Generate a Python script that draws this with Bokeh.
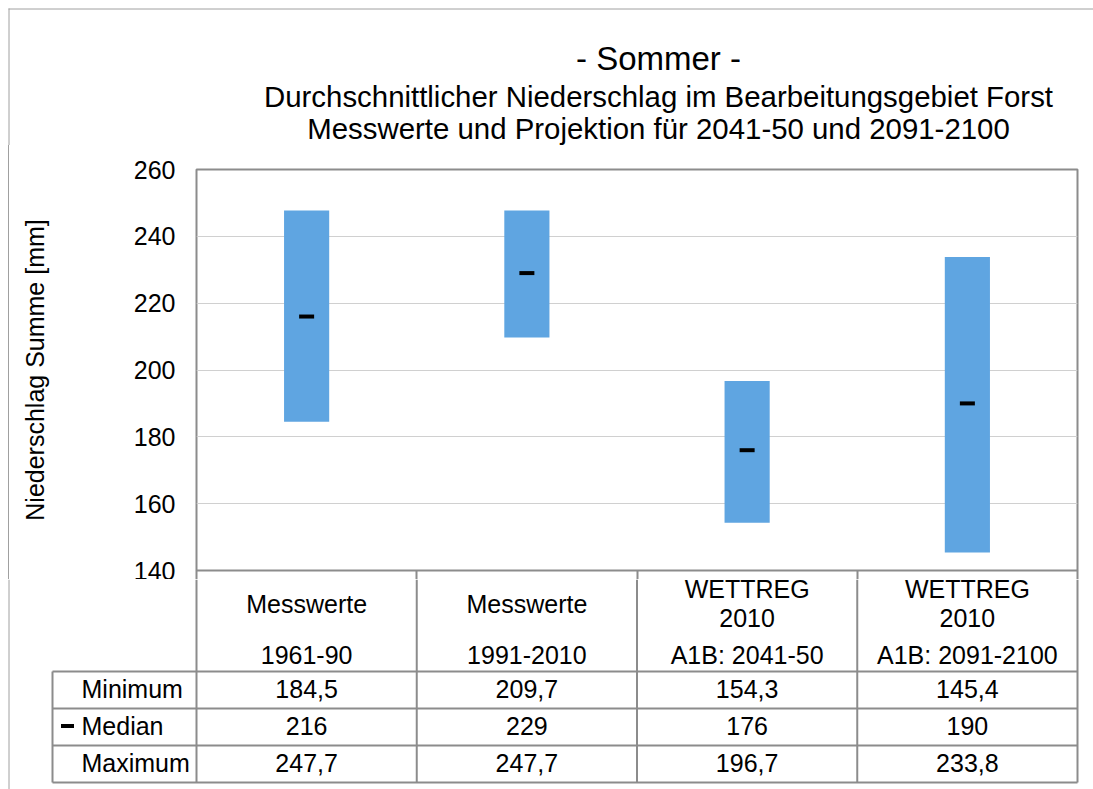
from bokeh.plotting import figure
from bokeh.models import Range1d, FixedTicker, ColumnDataSource
from bokeh.core.properties import value
from bokeh.embed import file_html
from bokeh.resources import INLINE

# ---------------- data ----------------
categories = ["Messwerte 1961-90", "Messwerte 1991-2010",
              "WETTREG 2010 A1B: 2041-50", "WETTREG 2010 A1B: 2091-2100"]
header_top = ["Messwerte", "Messwerte", "WETTREG\n2010", "WETTREG\n2010"]
header_bottom = ["1961-90", "1991-2010", "A1B: 2041-50", "A1B: 2091-2100"]
minimum = [184.5, 209.7, 154.3, 145.4]
median = [216, 229, 176, 190]
maximum = [247.7, 247.7, 196.7, 233.8]
row_labels = ["Minimum", "Median", "Maximum"]
y_ticks = [140, 160, 180, 200, 220, 240, 260]
title_lines = ["- Sommer -",
               "Durchschnittlicher Niederschlag im Bearbeitungsgebiet Forst",
               "Messwerte und Projektion für 2041-50 und 2091-2100"]
y_label = "Niederschlag Summe [mm]"

# ---------------- style / layout ----------------
FONT = value("Liberation Sans")
BAR = "#5fa5e1"
LINE = "#8c8c8c"
GRID = "#d0d0d0"
BORDER = "#a0a0a0"
PAGE_W = 1093
PAGE_H = 789
H0 = 145             # title strip height
FRAME_TOP = 169      # page y of value 260
AXIS_BOTTOM = 570    # page y of value 140
SPLIT = 579          # page y where the table figure starts
TABLE_TOP = 671      # page y of the first data row line
ROW_H = 37
FRAME_L, FRAME_R = 196, 1077
CAT_PX = (FRAME_R - FRAME_L) / 4.0
Y0, Y1 = 140, 260
TEXT_PX = "25px"

def fmt(v):
    return ("%g" % v).replace(".", ",")

xc = [i + 0.5 for i in range(len(categories))]
bounds_x = [float(i) for i in range(len(categories) + 1)]

# ---------------- title strip ----------------
p0 = figure(width=PAGE_W, height=H0, output_backend="svg", toolbar_location=None,
            x_range=Range1d(0, PAGE_W), y_range=Range1d(H0, 0),
            x_axis_location=None, y_axis_location=None, title=None,
            min_border=0)
p0.outline_line_color = None
p0.grid.visible = False
p0.segment(x0=[8, 8.5], y0=[8.5, 8], x1=[PAGE_W, 8.5], y1=[8.5, H0],
           line_color=BORDER, line_width=1)
p0.text(x=[658] * 3, y=[57.5, 96, 128], text=title_lines,
        text_align="center", text_baseline="middle", text_font=FONT,
        text_font_size=["33px", "29.4px", "29.4px"], text_color="black")

# ---------------- chart ----------------
W1 = PAGE_W - 9
H1 = SPLIT - H0
ML = FRAME_L - 9
MR = W1 - (FRAME_R - 9)
MT = FRAME_TOP - H0
MB = SPLIT - AXIS_BOTTOM
p1 = figure(width=W1, height=H1, output_backend="svg", toolbar_location=None,
            x_range=Range1d(0, 4), y_range=Range1d(Y0, Y1), title=None,
            min_border_left=ML, min_border_right=MR,
            min_border_top=MT, min_border_bottom=MB)
p1.styles = {"margin-left": "8px", "border-left": "1px solid " + BORDER}
p1.outline_line_color = LINE
p1.outline_line_width = 2
p1.xgrid.visible = False
p1.ygrid.grid_line_color = GRID
p1.ygrid.grid_line_width = 1

ax = p1.yaxis[0]
ax.ticker = FixedTicker(ticks=y_ticks)
ax.axis_line_color = None
ax.major_tick_line_color = None
ax.minor_tick_line_color = None
ax.major_tick_out = 0
ax.major_tick_in = 0
ax.minor_tick_out = 0
ax.major_label_standoff = 21
ax.major_label_text_font = "Liberation Sans"
ax.major_label_text_font_size = TEXT_PX
ax.major_label_text_color = "black"
ax.axis_label = y_label
ax.axis_label_text_font = "Liberation Sans"
ax.axis_label_text_font_size = TEXT_PX
ax.axis_label_text_font_style = "normal"
ax.axis_label_text_color = "black"
ax.axis_label_standoff = 82

# x axis: only the column separators, continuing into the table header
xa = p1.xaxis[0]
xa.ticker = FixedTicker(ticks=[], minor_ticks=bounds_x)
xa.axis_line_color = None
xa.major_tick_line_color = None
xa.major_tick_out = 0
xa.major_tick_in = 0
xa.minor_tick_in = 0
xa.minor_tick_out = MB
xa.minor_tick_line_color = LINE
xa.minor_tick_line_width = 2

src = ColumnDataSource(dict(x=xc, lo=minimum, hi=maximum, med=median))
p1.vbar(x="x", width=0.205, bottom="lo", top="hi", source=src,
        fill_color=BAR, line_color=None)
p1.rect(x="x", y="med", width=15, height=4, width_units="screen",
        height_units="screen", source=src, fill_color="black", line_color=None)

# ---------------- table (header + rows) ----------------
H2 = PAGE_H - SPLIT
p2 = figure(width=PAGE_W, height=H2, output_backend="svg", toolbar_location=None,
            x_range=Range1d(-FRAME_L / CAT_PX, (PAGE_W - FRAME_L) / CAT_PX),
            y_range=Range1d(H2, 0),
            x_axis_location=None, y_axis_location=None, title=None,
            min_border=0)
p2.outline_line_color = None
p2.grid.visible = False

label_left = (52 - FRAME_L) / CAT_PX
row0 = TABLE_TOP - SPLIT
row_bounds = [row0 + i * ROW_H for i in range(len(row_labels) + 1)]
# column separators through header and rows
p2.segment(x0=bounds_x, y0=[0] * len(bounds_x), x1=bounds_x,
           y1=[row_bounds[-1]] * len(bounds_x), line_color=LINE, line_width=2)
# label column left edge
p2.segment(x0=[label_left], y0=[row0], x1=[label_left], y1=[row_bounds[-1]],
           line_color=LINE, line_width=2)
# row lines
p2.segment(x0=[label_left] * len(row_bounds), y0=row_bounds,
           x1=[4.0] * len(row_bounds), y1=row_bounds,
           line_color=LINE, line_width=2)
# outer left border of the chart area
bx = (8.5 - FRAME_L) / CAT_PX
p2.segment(x0=[bx], y0=[0], x1=[bx], y1=[H2], line_color=BORDER, line_width=1)

# header texts
p2.text(x=xc, y=[603 - SPLIT] * 4, text=header_top, text_align="center",
        text_baseline="middle", text_font=FONT, text_font_size=TEXT_PX,
        text_color="black", text_line_height=1.07)
p2.text(x=xc, y=[654 - SPLIT] * 4, text=header_bottom, text_align="center",
        text_baseline="middle", text_font=FONT, text_font_size=TEXT_PX,
        text_color="black")

# row labels, legend key, values
row_cy = [row_bounds[i] + 17.5 for i in range(len(row_labels))]
p2.text(x=[(81 - FRAME_L) / CAT_PX] * 3, y=row_cy, text=row_labels,
        text_align="left", text_baseline="middle", text_font=FONT,
        text_font_size=TEXT_PX, text_color="black")
p2.rect(x=[(67 - FRAME_L) / CAT_PX], y=[row_cy[1]], width=13, height=4,
        width_units="screen", height_units="screen",
        fill_color="black", line_color=None)
for vals, cy in zip([minimum, median, maximum], row_cy):
    p2.text(x=xc, y=[cy] * len(vals), text=[fmt(v) for v in vals],
            text_align="center", text_baseline="middle", text_font=FONT,
            text_font_size=TEXT_PX, text_color="black")

open("out.html", "w").write(file_html([p0, p1, p2], INLINE))
